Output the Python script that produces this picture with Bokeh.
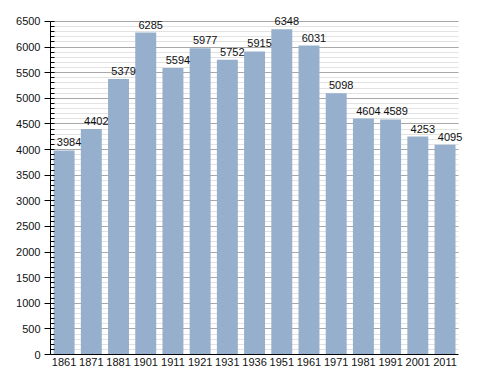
from bokeh.plotting import figure
from bokeh.models import (ColumnDataSource, SingleIntervalTicker, FixedTicker,
                          LabelSet, Range1d)
from bokeh.core.properties import value
from bokeh.embed import file_html
from bokeh.resources import INLINE

years = ["1861", "1871", "1881", "1901", "1911", "1921", "1931", "1936",
         "1951", "1961", "1971", "1981", "1991", "2001", "2011"]
population = [3984, 4402, 5379, 6285, 5594, 5977, 5752, 5915,
              6348, 6031, 5098, 4604, 4589, 4253, 4095]
y_max = 6500

n = len(years)
pos = [i + 0.5 for i in range(n)]
src = ColumnDataSource(dict(x=pos, y=population, lab=[str(v) for v in population]))

# extra head-room on top/right so value labels are not clipped
p = figure(x_range=Range1d(0, n + 0.73), y_range=Range1d(0, y_max * 1.045),
           width=488, height=373, output_backend="svg", toolbar_location=None,
           min_border_left=50, min_border_top=6, min_border_right=10, min_border_bottom=19)

p.vbar(x="x", top="y", width=0.77, source=src, fill_color="#95afcc", line_color=None)

labels = LabelSet(x="x", y="y", text="lab", source=src, text_align="center",
                  text_baseline="bottom", x_offset=5, y_offset=4, text_font_size="11px",
                  text_font=value("Liberation Sans"), text_color="#111111")
p.add_layout(labels)

p.outline_line_color = None
p.xgrid.grid_line_color = None
p.ygrid.grid_line_color = "#a8a8a8"
p.ygrid.minor_grid_line_color = "#e2e2e2"
p.ygrid.level = "underlay"
p.ygrid.bounds = (0, y_max)
p.ygrid.cross_bounds = (0, n)

p.yaxis.ticker = SingleIntervalTicker(interval=500, num_minor_ticks=5)
p.yaxis.bounds = (0, y_max)
p.yaxis.major_tick_out = 6
p.yaxis.major_tick_in = 0
p.yaxis.minor_tick_in = 4
p.yaxis.minor_tick_out = 0
p.yaxis.axis_line_color = "black"
p.yaxis.major_label_text_font = "Liberation Sans"
p.yaxis.major_label_text_font_size = "11px"
p.yaxis.major_label_text_color = "#111111"
p.yaxis.major_label_standoff = 4

p.xaxis.ticker = FixedTicker(ticks=pos, minor_ticks=[])
p.xaxis.major_label_overrides = {x: yr for x, yr in zip(pos, years)}
p.xaxis.bounds = (0, n)
p.xaxis.major_tick_line_color = None
p.xaxis.minor_tick_line_color = None
p.xaxis.major_tick_out = 0
p.xaxis.major_tick_in = 0
p.xaxis.axis_line_color = "black"
p.xaxis.major_label_text_font = "Liberation Sans"
p.xaxis.major_label_text_font_size = "11px"
p.xaxis.major_label_text_color = "#111111"
p.xaxis.major_label_standoff = 3

open("out.html", "w").write(file_html(p, INLINE))
